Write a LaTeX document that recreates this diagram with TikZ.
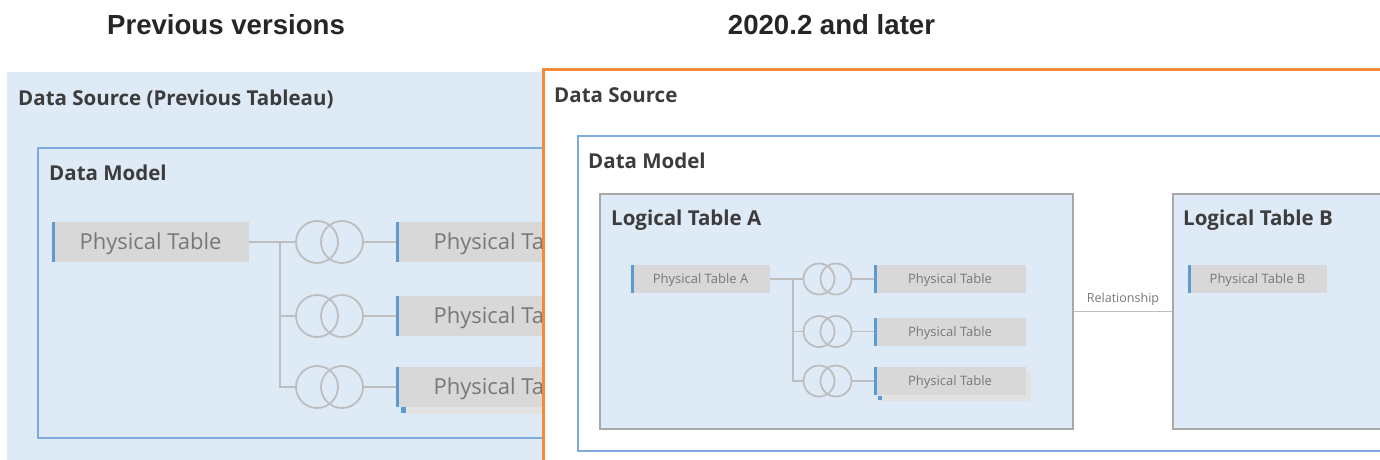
\documentclass[tikz,border=0pt]{standalone}
\usepackage{fontspec}
\setmainfont{Open Sans}
\newfontfamily\titlefont{Liberation Sans}
\usetikzlibrary{calc}
\definecolor{bgblue}{RGB}{222,234,246}
\definecolor{dmblue}{RGB}{126,170,220}
\definecolor{ltgrey}{RGB}{168,168,168}
\definecolor{ptfill}{RGB}{216,216,216}
\definecolor{shfill}{RGB}{226,226,226}
\definecolor{barblue}{RGB}{91,155,213}
\definecolor{lnk}{RGB}{190,190,190}
\definecolor{orng}{RGB}{240,138,60}
\definecolor{headtxt}{RGB}{60,60,60}
\definecolor{pttxt}{RGB}{120,120,120}
\tikzset{
  ttl/.style={inner sep=0, font=\titlefont\bfseries\fontsize{27.6}{30}\selectfont, text=black!85, text height=19.8pt, text depth=0pt},
  head/.style={inner sep=0, anchor=base west, font=\bfseries\fontsize{20.5}{24}\selectfont, text=headtxt},
  ptab/.style={fill=ptfill, inner sep=0, text=pttxt,
    path picture={\fill[barblue] (path picture bounding box.north west) rectangle ([xshift=#1]path picture bounding box.south west);}},
  ptbig/.style={ptab=3pt, minimum height=40, minimum width=197, font=\fontsize{22}{26}\selectfont, text height=15.7pt, text depth=0pt},
  ptbigR/.style={ptbig, minimum width=217},
  ptsmall/.style={ptab=2.5pt, minimum height=28, minimum width=152, font=\fontsize{13}{15}\selectfont, text height=9.3pt, text depth=0pt},
  shtab/.style={fill=shfill, inner sep=0},
  jring/.style={circle, draw=lnk, line width=1.8, inner sep=0, minimum size=#1},
  link/.style={draw=lnk, line width=1.8},
  dmbox/.style={draw=dmblue, line width=2},
  ltbox/.style={draw=ltgrey, line width=2, fill=bgblue, inner sep=0},
}
\begin{document}
\begin{tikzpicture}[x=1pt,y=-1pt]
\useasboundingbox (0,0) rectangle (1380,460);
\fill[white] (0,0) rectangle (1380,460);

% titles
\node[ttl] (t1) at (226,25) {Previous versions};
\node[ttl] (t2) at (831.5,25) {2020.2 and later};

% ---------- left panel ----------
\begin{scope}
\clip (0,0) rectangle (543,460);
\fill[bgblue] (7,72) rectangle (560,470);
\draw[dmbox] (560,148) -- (38,148) -- (38,438) -- (560,438);
\node[head] (dsL) at (18,105.5) {Data Source (Previous Tableau)};
\node[head] (dmL) at (49,180.5) {Data Model};

\node[ptbig] (pL0) at (150.5,242) {Physical Table};
\fill[shfill] (401,374) rectangle (620,414);
\fill[barblue] (401,407) rectangle (406,413);
\node[ptbigR] (pL1) at (504.5,242) {Physical Table};
\node[ptbigR] (pL2) at (504.5,316) {Physical Table};
\node[ptbigR] (pL3) at (504.5,387) {Physical Table};

\coordinate (jL) at (280,242);
\foreach \i/\y in {1/242,2/316,3/387}{
  \node[jring=42] (ra\i) at (317,\y) {};
  \node[jring=42] (rb\i) at (342,\y) {};
  \draw[link] (rb\i.east) -- (pL\i.west);
}
\draw[link] (pL0.east) -- (ra1.west);
\draw[link] (jL) |- (ra3.west);
\draw[link] (jL |- ra2.west) -- (ra2.west);
\end{scope}

% ---------- right panel ----------
\draw[dmbox, fill=white] (1390,136) -- (578,136) -- (578,451) -- (1390,451);
\draw[orng, line width=3] (543,470) -- (543,69) -- (1390,69);
\node[head] (dsR) at (554,102.5) {Data Source};
\node[head] (dmR) at (588,168.5) {Data Model};

\node[ltbox, minimum width=473, minimum height=235] (ltA) at (836.5,311.5) {};
\node[ltbox, minimum width=260, minimum height=235] (ltB) at (1303,311.5) {};
\node[head] (ltAt) at (611,225.5) {Logical Table A};
\node[head] (ltBt) at (1183,225.5) {Logical Table B};

\draw[link] (ltA.east) -- node[above=5pt, inner sep=0, font=\fontsize{12.5}{14}\selectfont, text=pttxt] (rel) {Relationship} (ltB.west);

\node[ptsmall, minimum width=139] (pA) at (700.5,279) {Physical Table A};
\node[ptsmall, minimum width=139] (pB) at (1257.5,279) {Physical Table B};

\fill[shfill] (878,371) rectangle (1031,401);
\fill[barblue] (878,396) rectangle (882,400);
\node[ptsmall] (pR1) at (950,279) {Physical Table};
\node[ptsmall] (pR2) at (950,331.5) {Physical Table};
\node[ptsmall] (pR3) at (950,381) {Physical Table};

\coordinate (jR) at (793,279);
\foreach \i/\y in {1/279,2/331.5,3/381}{
  \node[jring=31] (sa\i) at (819,\y) {};
  \node[jring=31] (sb\i) at (836,\y) {};
  \draw[link] (sb\i.east) -- (pR\i.west);
}
\draw[link] (pA.east) -- (sa1.west);
\draw[link] (jR) |- (sa3.west);
\draw[link] (jR |- sa2.west) -- (sa2.west);
\end{tikzpicture}
\end{document}
